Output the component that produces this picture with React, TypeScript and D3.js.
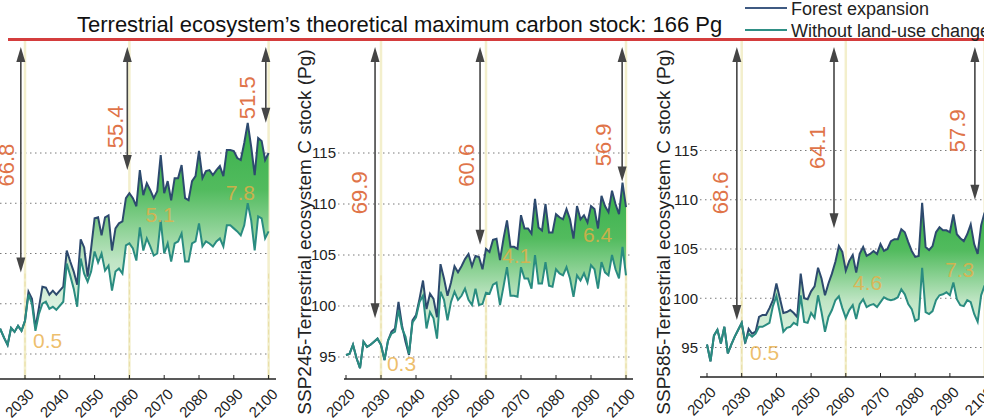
import * as d3 from "d3";

// years and axis values
const YEARS = d3.range(2020, 2101);
const TICK_YEARS = [2020, 2030, 2040, 2050, 2060, 2070, 2080, 2090, 2100];
const GRID_VALUES = [95, 100, 105, 110, 115];
const MARK_YEARS = [2030, 2060, 2100];

const TITLE = "Terrestrial ecosystem\u2019s theoretical maximum carbon stock: 166 Pg";
const LEGEND = ["Forest expansion", "Without land-use change"];

// one value per year 2020-2100
const ssp126Forest = [
  96.8, 97.6, 97.0, 97.4, 96.6, 95.9, 97.6, 97.2, 97.8, 97.3,
  98.3, 101.2, 100.5, 97.6, 99.6, 101.7, 101.6, 100.9, 101.3, 100.9,
  101.3, 101.7, 105.3, 104.2, 103.2, 101.9, 106.4, 105.6, 102.7, 105.5,
  108.5, 108.6, 106.8, 108.6, 108.8, 105.3, 107.5, 108.0, 108.2, 110.5,
  111.0, 110.5, 109.7, 113.3, 110.8, 112.0, 111.3, 110.5, 111.2, 114.8,
  111.0, 112.2, 110.3, 112.5, 112.5, 113.8, 110.5, 110.3, 112.2, 112.7,
  115.2, 112.5, 113.2, 113.3, 112.8, 113.3, 113.7, 112.7, 115.3, 115.3,
  115.2, 114.5, 114.3, 116.0, 118.0, 115.6, 112.8, 116.5, 116.2, 114.3,
  115.0,
];
const ssp126NoLuc = [
  96.8, 97.6, 97.0, 97.4, 96.6, 95.9, 97.6, 97.2, 97.8, 97.3,
  98.3, 100.9, 100.0, 97.3, 99.0, 100.0, 100.2, 99.5, 99.7, 99.4,
  99.8, 100.2, 104.0, 102.8, 101.5, 99.7, 104.5, 103.0, 102.2, 103.2,
  105.2, 104.1, 105.0, 103.3, 103.8, 101.3, 103.2, 103.5, 103.0, 105.8,
  106.0, 105.5, 104.3, 107.6, 105.3, 106.5, 105.7, 104.8, 105.0, 108.3,
  105.0, 106.0, 104.2, 106.0, 106.2, 107.0, 104.2, 104.2, 106.0, 106.2,
  108.0, 105.7, 106.2, 106.0, 105.7, 106.2, 106.5, 105.7, 107.8, 107.8,
  107.5, 107.2, 106.8, 107.8, 110.0, 108.3, 105.3, 108.7, 108.5, 106.5,
  107.2,
];
const ssp245Forest = [
  95.2, 95.3, 96.2, 94.9, 93.9, 96.5, 96.0, 96.2, 96.5, 96.8,
  96.2, 94.7, 96.6, 97.5, 97.8, 100.4, 98.1, 96.5, 95.2, 98.6,
  99.1, 100.7, 102.5, 99.7, 101.2, 100.7, 98.9, 104.1, 102.7, 101.0,
  102.3, 103.9, 103.3, 103.9, 104.6, 105.1, 103.9, 104.9, 104.8, 103.6,
  105.6, 105.3, 106.5, 106.6, 104.5, 106.6, 108.4, 105.8, 105.8, 105.6,
  108.9, 107.6, 107.6, 107.1, 110.5, 107.7, 107.4, 110.0, 107.2, 107.2,
  109.0, 108.7, 108.5, 109.5, 108.5, 106.6, 109.8, 108.5, 108.9, 108.2,
  109.8, 109.5, 107.6, 110.8, 109.8, 109.2, 111.3, 110.0, 109.0, 112.1,
  109.7,
];
const ssp245NoLuc = [
  95.2, 95.3, 96.2, 94.9, 93.9, 96.5, 96.0, 96.2, 96.5, 96.8,
  96.2, 94.7, 96.6, 97.3, 97.5, 99.6, 97.8, 97.0, 95.3, 98.4,
  98.9, 100.4, 101.0, 97.8, 99.4, 98.8, 96.8, 101.4, 100.6, 98.6,
  100.4, 101.4, 100.6, 101.0, 101.7, 100.6, 100.1, 101.7, 100.1, 100.2,
  101.3, 101.2, 102.1, 102.3, 100.1, 101.9, 103.8, 101.0, 101.0, 100.9,
  103.8, 102.7, 102.7, 101.7, 105.0, 102.2, 102.2, 104.3, 102.0, 101.9,
  103.6, 103.2, 103.0, 103.8, 102.7, 100.9, 103.0, 102.5, 103.2, 102.3,
  104.0, 103.6, 101.7, 104.3, 103.3, 103.0, 105.0, 103.6, 102.7, 105.8,
  103.0,
];
const ssp585Forest = [
  95.3, 93.6, 96.2, 96.8, 95.4, 97.1, 94.4, 95.3, 96.1, 96.8,
  97.5, 95.4, 96.9, 96.4, 96.6, 98.1, 98.3, 98.3, 99.0, 99.8,
  101.5, 100.0, 98.5, 98.6, 98.8, 98.5, 98.1, 102.5, 100.0, 99.9,
  100.7, 101.2, 103.1, 102.0, 100.3, 101.5, 102.5, 103.7, 105.3, 104.7,
  102.8, 103.8, 104.4, 102.6, 104.5, 105.2, 104.3, 104.5, 104.8, 104.5,
  105.5, 104.8, 105.0, 105.8, 106.0, 106.0, 107.0, 106.7, 105.7, 104.8,
  104.2, 104.3, 109.7, 105.2, 104.9, 105.3, 106.7, 107.2, 106.9, 106.9,
  106.7, 108.5, 106.5, 106.1, 105.8, 106.5, 107.5, 105.5, 104.5, 107.4,
  108.7,
];
const ssp585NoLuc = [
  95.3, 93.6, 96.2, 96.8, 95.4, 97.1, 94.4, 95.3, 96.1, 96.8,
  97.5, 95.6, 96.4, 96.1, 96.4, 97.1, 97.1, 97.3, 97.5, 99.2,
  100.2, 98.5, 96.6, 97.0, 97.1, 97.5, 97.3, 100.3, 97.6, 97.5,
  98.5, 98.0, 100.3, 98.6, 96.6, 98.1, 98.8, 99.8, 100.2, 99.0,
  98.0, 98.8, 99.3, 97.9, 99.4, 99.9, 99.1, 99.3, 99.4, 99.1,
  99.6, 100.1, 99.9, 99.8, 99.9, 100.1, 100.9, 100.4, 99.4, 98.9,
  97.7, 97.9, 103.1, 98.6, 98.4, 98.7, 99.8, 100.3, 100.4, 100.6,
  100.3, 101.6, 99.9, 99.3, 99.2, 99.8, 99.6, 98.4, 97.6, 100.3,
  101.3,
];

// distance to the 166 Pg ceiling: arrow year, arrow end, label, label anchor
const ssp126Arrows = [
  { year: 2028.8, end: 103.1, text: "66.8", ly: 2024.6, lv: 113.8 },
  { year: 2059.4, end: 113.3, text: "55.4", ly: 2055.9, lv: 117.6 },
  { year: 2099.2, end: 118.0, text: "51.5", ly: 2093.9, lv: 120.5 },
];
const ssp245Arrows = [
  { year: 2028.3, end: 98.8, text: "69.9", ly: 2023.8, lv: 111.1 },
  { year: 2058.3, end: 106.0, text: "60.6", ly: 2054.4, lv: 113.8 },
  { year: 2098.9, end: 112.2, text: "56.9", ly: 2093.5, lv: 115.8 },
];
const ssp585Arrows = [
  { year: 2028.6, end: 97.8, text: "68.6", ly: 2023.8, lv: 110.7 },
  { year: 2056.6, end: 107.1, text: "64.1", ly: 2051.8, lv: 115.3 },
  { year: 2097.2, end: 110.0, text: "57.9", ly: 2092.1, lv: 117.0 },
];

// gain from forest expansion
const ssp126Gaps = [
  { year: 2032.3, value: 95.6, text: "0.5" },
  { year: 2064.6, value: 108.1, text: "5.1" },
  { year: 2087.7, value: 110.3, text: "7.8" },
];
const ssp245Gaps = [
  { year: 2031.7, value: 93.6, text: "0.3" },
  { year: 2064.6, value: 104.2, text: "4.1" },
  { year: 2087.7, value: 106.3, text: "6.4" },
];
const ssp585Gaps = [
  { year: 2032.4, value: 93.7, text: "0.5" },
  { year: 2062.1, value: 100.8, text: "4.6" },
  { year: 2088.6, value: 102.2, text: "7.3" },
];

const FONT = "'Liberation Sans', Arial, sans-serif";
const W = 984;
const H = 418;
const CAP_Y = 39.5;
const ARROW_TOP = 47;
const FOREST_COLOR = "#2d4a6e";
const NOLUC_COLOR = "#2a8c80";

const panels = [
  {
    key: "ssp126",
    forest: ssp126Forest,
    noLuc: ssp126NoLuc,
    arrows: ssp126Arrows,
    gaps: ssp126Gaps,
    yTitle: null,
    xRange: [-9.8, 268.6],
    yRange: [354, 153],
    axisY: 379,
    axisSpan: [0, 276],
    gridSpan: [0, 270],
    tickLabelX: null,
    titleX: null,
  },
  {
    key: "ssp245",
    forest: ssp245Forest,
    noLuc: ssp245NoLuc,
    arrows: ssp245Arrows,
    gaps: ssp245Gaps,
    yTitle: "SSP245-Terrestrial ecosystem C stock (Pg)",
    xRange: [346, 626],
    yRange: [357, 153],
    axisY: 379,
    axisSpan: [344, 633],
    gridSpan: [338, 633],
    tickLabelX: 336,
    titleX: 311,
  },
  {
    key: "ssp585",
    forest: ssp585Forest,
    noLuc: ssp585NoLuc,
    arrows: ssp585Arrows,
    gaps: ssp585Gaps,
    yTitle: "SSP585-Terrestrial ecosystem C stock (Pg)",
    xRange: [707, 984.6],
    yRange: [347.5, 150.5],
    axisY: 377,
    axisSpan: [700, 984],
    gridSpan: [700, 984],
    tickLabelX: 698,
    titleX: 670,
  },
];

type PanelDef = (typeof panels)[number];

function Arrow({ x, y1, y2 }: { x: number; y1: number; y2: number }) {
  const head = 15;
  const half = 4.5;
  return (
    <g fill="#454545" stroke="#454545">
      <line x1={x} x2={x} y1={y1 + head - 2} y2={y2 - head + 2} strokeWidth={1.6} />
      <path d={`M${x},${y1} L${x - half},${y1 + head} L${x + half},${y1 + head} Z`} stroke="none" />
      <path d={`M${x},${y2} L${x - half},${y2 - head} L${x + half},${y2 - head} Z`} stroke="none" />
    </g>
  );
}

function Panel({ p }: { p: PanelDef }) {
  const x = d3.scaleLinear().domain([2020, 2100]).range(p.xRange);
  const y = d3.scaleLinear().domain([95, 115]).range(p.yRange);
  const rows = YEARS.map((yr, i) => ({ yr, f: p.forest[i], n: p.noLuc[i] }));

  const band = d3
    .area<(typeof rows)[number]>()
    .x((d) => x(d.yr))
    .y0((d) => y(d.n))
    .y1((d) => y(d.f));
  const forestLine = d3
    .line<(typeof rows)[number]>()
    .x((d) => x(d.yr))
    .y((d) => y(d.f));
  const noLucLine = d3
    .line<(typeof rows)[number]>()
    .x((d) => x(d.yr))
    .y((d) => y(d.n));

  return (
    <g>
      {/* dotted grid */}
      {GRID_VALUES.map((v) => (
        <line
          key={v}
          x1={p.gridSpan[0]}
          x2={p.gridSpan[1]}
          y1={y(v)}
          y2={y(v)}
          stroke="#7a7a7a"
          strokeWidth={1}
          strokeDasharray="1.5 3.5"
        />
      ))}

      {/* milestone years */}
      {MARK_YEARS.map((yr) => (
        <g key={yr}>
          <line x1={x(yr)} x2={x(yr)} y1={CAP_Y} y2={p.axisY} stroke="#f3efcc" strokeWidth={2.5} />
          <line
            x1={x(yr)}
            x2={x(yr)}
            y1={y(103)}
            y2={p.axisY}
            stroke="#e0cf86"
            strokeWidth={1}
            strokeDasharray="5 3"
            opacity={0.55}
          />
        </g>
      ))}

      <path d={band(rows) ?? ""} fill="url(#bandFill)" />
      <path d={forestLine(rows) ?? ""} fill="none" stroke={FOREST_COLOR} strokeWidth={2} />
      <path d={noLucLine(rows) ?? ""} fill="none" stroke={NOLUC_COLOR} strokeWidth={2} />

      {p.gaps.map((g) => (
        <text
          key={g.text + g.year}
          x={x(g.year)}
          y={y(g.value)}
          fontSize={21}
          fill="#e9ae45"
          fillOpacity={0.8}
        >
          {g.text}
        </text>
      ))}

      {p.arrows.map((a) => (
        <g key={a.text}>
          <Arrow x={x(a.year)} y1={ARROW_TOP} y2={y(a.end)} />
          <text
            transform={`translate(${x(a.ly)},${y(a.lv)}) rotate(-90)`}
            textAnchor="middle"
            dy="0.35em"
            fontSize={22}
            fill="#e07449"
          >
            {a.text}
          </text>
        </g>
      ))}

      {/* x axis */}
      <line x1={p.axisSpan[0]} x2={p.axisSpan[1]} y1={p.axisY} y2={p.axisY} stroke="#222" strokeWidth={1.5} />
      {TICK_YEARS.map((yr) => (
        <g key={yr}>
          <line x1={x(yr)} x2={x(yr)} y1={p.axisY} y2={p.axisY - 4} stroke="#222" strokeWidth={1} />
          <text
            transform={`translate(${x(yr) + 10},${p.axisY + 16}) rotate(-45)`}
            textAnchor="end"
            fontSize={15}
            fill="#222"
          >
            {yr}
          </text>
        </g>
      ))}

      {/* y tick labels */}
      {p.tickLabelX !== null &&
        GRID_VALUES.map((v) => (
          <text key={v} x={p.tickLabelX} y={y(v)} dy="0.35em" textAnchor="end" fontSize={15} fill="#222">
            {v}
          </text>
        ))}

      {p.yTitle && p.titleX !== null && (
        <text
          transform={`translate(${p.titleX},232) rotate(-90)`}
          textAnchor="middle"
          fontSize={19}
          fill="#222"
        >
          {p.yTitle}
        </text>
      )}
    </g>
  );
}

export default function App() {
  return (
    <svg
      width={W}
      height={H}
      viewBox={`0 0 ${W} ${H}`}
      style={{ position: "absolute", left: 0, top: 0, background: "#fff" }}
      fontFamily={FONT}
    >
      <defs>
        <linearGradient id="bandFill" x1="0" y1="0" x2="0" y2="1">
          <stop offset="0" stopColor="#37b04a" />
          <stop offset="0.3" stopColor="#52bb5e" />
          <stop offset="0.62" stopColor="#bfe5c4" />
          <stop offset="1" stopColor="#f4fbf7" />
        </linearGradient>
      </defs>
      <rect width={W} height={H} fill="#fff" />

      {panels.map((p) => (
        <Panel key={p.key} p={p} />
      ))}

      {/* ceiling */}
      <line x1={8} x2={W} y1={CAP_Y} y2={CAP_Y} stroke="#d43d3d" strokeWidth={3} />
      <text x={77} y={32} fontSize={22} fill="#111">
        {TITLE}
      </text>

      {/* legend */}
      {LEGEND.map((label, i) => (
        <g key={label}>
          <line
            x1={745}
            x2={787}
            y1={8 + i * 22}
            y2={8 + i * 22}
            stroke={i === 0 ? "#3f5a82" : "#2f8f85"}
            strokeWidth={2}
          />
          <text x={791} y={15 + i * 22} fontSize={18} fill="#222">
            {label}
          </text>
        </g>
      ))}
    </svg>
  );
}
